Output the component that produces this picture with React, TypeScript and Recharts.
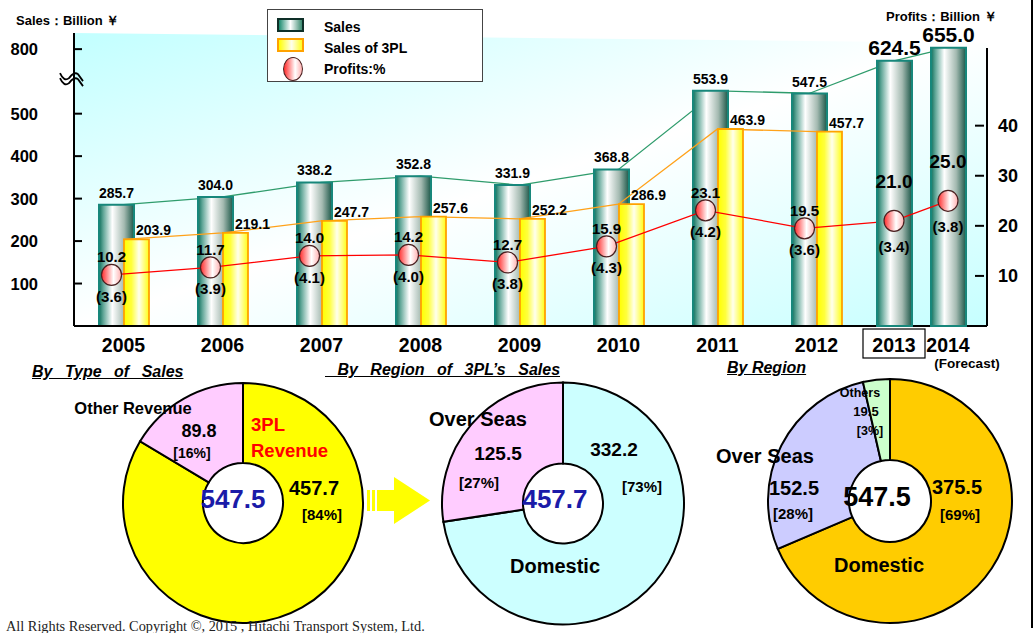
import React from "react";
import {
  ComposedChart,
  Bar,
  Line,
  XAxis,
  YAxis,
  LabelList,
  PieChart,
  Pie,
  Cell,
} from "recharts";

// ---- data ----
const years = ["2005", "2006", "2007", "2008", "2009", "2010", "2011", "2012", "2013", "2014"];
const sales = [285.7, 304.0, 338.2, 352.8, 331.9, 368.8, 553.9, 547.5, 624.5, 655.0];
const sales3PL = [203.9, 219.1, 247.7, 257.6, 252.2, 286.9, 463.9, 457.7];
const profits = [10.2, 11.7, 14.0, 14.2, 12.7, 15.9, 23.1, 19.5, 21.0, 25.0];
const margins = [3.6, 3.9, 4.1, 4.0, 3.8, 4.3, 4.2, 3.6, 3.4, 3.8];

const salesTicks = [100, 200, 300, 400, 500];
const salesBreakLabel = 800; // label drawn above the axis break
const salesBreakAt = 652; // where that label sits on the drawn scale
const profitTicks = [10, 20, 30, 40];
const boxedYear = "2013";
const forecastYear = "2014";

const typeNames = ["3PL Revenue", "Other Revenue"];
const typeValues = [457.7, 89.8];
const typeShares = [84, 16];

const tplRegionNames = ["Domestic", "Over Seas"];
const tplRegionValues = [332.2, 125.5];
const tplRegionShares = [73, 27];

const regionNames = ["Domestic", "Over Seas", "Others"];
const regionValues = [375.5, 152.5, 19.5];
const regionShares = [69, 28, 3];

const rows = years.map((year, i) => ({
  year,
  sales: sales[i],
  tpl: i < sales3PL.length ? sales3PL[i] : null,
  profit: profits[i],
  margin: margins[i],
}));
const split = sales3PL.length;
const mainRows = rows.slice(0, split);
const forecastRows = rows.slice(split);
const bridgeRows = rows.slice(split - 1, split + 1);

const toPie = (names: string[], values: number[]) => names.map((name, i) => ({ name, value: values[i] }));

// ---- layout / style ----
const W = 1036;
const H = 633;
const TOP_H = 380;
const PLOT_TOP = 33;
const PLOT_BOTTOM = 326;
const X_AXIS_H = TOP_H - PLOT_BOTTOM;
const LEFT_AXIS_X = 74;
const RIGHT_AXIS_X = 987;
const RIGHT_AXIS_TOP = 48;
const SALES_MAX = 690;
const PROFIT_MAX = 58.5;
const PROFIT_MAX_RIGHT = (PROFIT_MAX * (PLOT_BOTTOM - RIGHT_AXIS_TOP)) / (PLOT_BOTTOM - PLOT_TOP);

const FONT = '"Liberation Sans", Arial, Helvetica, sans-serif';
const SERIF = '"Liberation Serif", "Times New Roman", serif';
const SALES_LINE = "#2f9c6c";
const TPL_LINE = "#ffa21a";
const PROFIT_LINE = "#ff0000";
const axisStroke = { stroke: "#000", strokeWidth: 2 };
const abs: React.CSSProperties = { position: "absolute", left: 0, top: 0 };

const gradDefs = (id: string) => (
  <defs>
    <linearGradient id={`${id}-sales`} x1="0" y1="0" x2="1" y2="0">
      <stop offset="0%" stopColor="#0f6f5c" />
      <stop offset="12%" stopColor="#5ea596" />
      <stop offset="38%" stopColor="#ffffff" />
      <stop offset="72%" stopColor="#a4bab1" />
      <stop offset="100%" stopColor="#1c5748" />
    </linearGradient>
    <linearGradient id={`${id}-tpl`} x1="0" y1="0" x2="1" y2="0">
      <stop offset="0%" stopColor="#ffff00" />
      <stop offset="30%" stopColor="#ffff3c" />
      <stop offset="60%" stopColor="#ffffee" />
      <stop offset="100%" stopColor="#ffff14" />
    </linearGradient>
    <linearGradient id={`${id}-ball`} x1="0" y1="0" x2="1" y2="0">
      <stop offset="0%" stopColor="#ff2a2a" />
      <stop offset="60%" stopColor="#ffffff" />
      <stop offset="100%" stopColor="#ffb0b0" />
    </linearGradient>
  </defs>
);

const boldText = (size: number) => ({
  fontSize: size,
  fontWeight: "bold" as const,
  fontFamily: FONT,
  fill: "#000",
});

// ---- ticks ----
const yearTick = (p: any) => (
  <text x={p.x} y={PLOT_BOTTOM + 26} textAnchor="middle" {...boldText(19.5)}>
    {p.payload.value}
  </text>
);

const forecastTick = (p: any) => {
  const v = p.payload.value;
  return (
    <g>
      {v === boxedYear && (
        <rect x={p.x - 31} y={PLOT_BOTTOM + 3} width={62} height={29} fill="none" stroke="#000" strokeWidth={1.2} />
      )}
      <text x={p.x} y={PLOT_BOTTOM + 26} textAnchor="middle" {...boldText(19.5)}>
        {v}
      </text>
      {v === forecastYear && (
        <text x={p.x + 19} y={PLOT_BOTTOM + 42} textAnchor="middle" {...boldText(13.5)}>
          (Forecast)
        </text>
      )}
    </g>
  );
};

const salesTick = (p: any) => {
  const v = p.payload.value;
  const isBreak = v === salesBreakAt;
  const x = LEFT_AXIS_X;
  const y = p.y;
  const wave = (o: number) =>
    `M${x - 14},${y + 24 + o} Q${x - 10},${y + 33 + o} ${x - 5},${y + 29 + o} Q${x},${y + 22 + o} ${x + 4},${y + 25 + o} L${x + 9},${y + 32 + o}`;
  return (
    <g>
      <line x1={x} x2={x + 8} y1={y} y2={y} stroke="#000" strokeWidth={2} />
      <text x={x - 36} y={y + 6} textAnchor="end" {...boldText(16.5)}>
        {isBreak ? salesBreakLabel : v}
      </text>
      {isBreak && (
        <g fill="none" stroke="#000" strokeWidth={1.8}>
          <path d={wave(0)} />
          <path d={wave(5)} />
        </g>
      )}
    </g>
  );
};

const profitTick = (p: any) => (
  <g>
    <line x1={RIGHT_AXIS_X - 12} x2={RIGHT_AXIS_X - 3} y1={p.y} y2={p.y} stroke="#000" strokeWidth={2} />
    <text x={RIGHT_AXIS_X + 11} y={p.y + 6.5} textAnchor="start" {...boldText(18)}>
      {p.payload.value}
    </text>
  </g>
);

// ---- labels ----
const barValue = (size: number, lift: number, shift: number) => (p: any) => {
  if (p.value == null) return null;
  const vb = p.viewBox || {};
  const x = (p.x ?? vb.x) + (p.width ?? vb.width ?? 0) / 2 + shift;
  const y = p.y ?? vb.y;
  return (
    <text x={x} y={y - lift} textAnchor="middle" {...boldText(size)}>
      {Number(p.value).toFixed(1)}
    </text>
  );
};

const pointText = (size: number, dy: number, wrap: boolean) => (p: any) => {
  if (p.value == null) return null;
  const vb = p.viewBox || {};
  const x = p.x ?? vb.x;
  const y = p.y ?? vb.y;
  const t = Number(p.value).toFixed(1);
  return (
    <text x={x} y={y + dy} textAnchor="middle" {...boldText(size)}>
      {wrap ? `(${t})` : t}
    </text>
  );
};

const ball = (id: string) => (p: any) => (
  <ellipse
    key={`ball-${p.index}`}
    cx={p.cx}
    cy={p.cy}
    rx={10}
    ry={10.5}
    fill={`url(#${id}-ball)`}
    stroke="#4a2020"
    strokeWidth={1.2}
  />
);

// ---- pie labels ----
type TextSpot = { dx: number; dy: number; size: number; color?: string; anchor?: "start" | "middle" | "end"; lineGap?: number };
type PieLayout = { center: TextSpot; slices: { name: TextSpot; value: TextSpot; share: TextSpot }[] };

const typeLayout: PieLayout = {
  center: { dx: -5, dy: 1, size: 26, color: "#1b1ba8" },
  slices: [
    {
      name: { dx: 13, dy: -74, size: 18.5, color: "#ff0000", anchor: "start", lineGap: 26 },
      value: { dx: 76, dy: -10, size: 20 },
      share: { dx: 84, dy: 16, size: 15 },
    },
    {
      name: { dx: -105, dy: -90, size: 16.5 },
      value: { dx: -39, dy: -67, size: 18 },
      share: { dx: -46, dy: -45, size: 14 },
    },
  ],
};

const tplRegionLayout: PieLayout = {
  center: { dx: -3, dy: 0.5, size: 26, color: "#1b1ba8" },
  slices: [
    {
      name: { dx: -3, dy: 67.5, size: 20 },
      value: { dx: 56, dy: -49.5, size: 19 },
      share: { dx: 84, dy: -12.5, size: 15 },
    },
    {
      name: { dx: -80, dy: -79.5, size: 20 },
      value: { dx: -60, dy: -45.5, size: 19 },
      share: { dx: -79, dy: -16.5, size: 15 },
    },
  ],
};

const regionLayout: PieLayout = {
  center: { dx: -8, dy: 1, size: 27 },
  slices: [
    {
      name: { dx: -6, dy: 69, size: 20 },
      value: { dx: 72, dy: -9, size: 20 },
      share: { dx: 75, dy: 18, size: 15 },
    },
    {
      name: { dx: -120, dy: -40, size: 20 },
      value: { dx: -91, dy: -8, size: 20 },
      share: { dx: -92, dy: 17, size: 15 },
    },
    {
      name: { dx: -25, dy: -103, size: 12.5 },
      value: { dx: -19, dy: -85, size: 13 },
      share: { dx: -15, dy: -65, size: 12.5 },
    },
  ],
};

const spot = (key: string, x: number, y: number, s: TextSpot, content: string) => (
  <text
    key={key}
    x={x + s.dx}
    y={y + s.dy}
    textAnchor={s.anchor ?? "middle"}
    dominantBaseline="central"
    {...boldText(s.size)}
    fill={s.color ?? "#000"}
  >
    {content}
  </text>
);

const pieLabel =
  (layout: PieLayout, cx: number, cy: number, names: string[], values: number[], shares: number[]) =>
  (p: any) => {
    const i = typeof p.index === "number" ? p.index : values.indexOf(p.value);
    const s = layout.slices[i];
    if (!s) return null;
    const lines = s.name.lineGap ? names[i].split(" ") : [names[i]];
    const total = values.reduce((a, b) => a + b, 0);
    return (
      <g key={`pie-label-${i}`}>
        {lines.map((t, k) => spot(`n${k}`, cx, cy + k * (s.name.lineGap ?? 0), s.name, t))}
        {spot("v", cx, cy, s.value, values[i].toFixed(1))}
        {spot("s", cx, cy, s.share, `[${shares[i]}%]`)}
        {i === 0 && spot("c", cx, cy, layout.center, total.toFixed(1))}
      </g>
    );
  };

const typeColors = ["#ffff00", "#ffccff"];
const tplRegionColors = ["#ccffff", "#ffccff"];
const regionColors = ["#ffcc00", "#ccccff", "#ccffcc"];

const PIE_TOP = 360;
const pies = [
  { key: "type", cx: 238, cy: 138, r: 120, ir: 40, names: typeNames, values: typeValues, shares: typeShares, colors: typeColors, layout: typeLayout },
  { key: "tpl", cx: 558, cy: 138.5, r: 121, ir: 40, names: tplRegionNames, values: tplRegionValues, shares: tplRegionShares, colors: tplRegionColors, layout: tplRegionLayout },
  { key: "region", cx: 885, cy: 136, r: 122, ir: 41, names: regionNames, values: regionValues, shares: regionShares, colors: regionColors, layout: regionLayout },
];

const sectionTitle: React.CSSProperties = {
  position: "absolute",
  fontFamily: FONT,
  fontWeight: "bold",
  fontStyle: "italic",
  fontSize: 16,
  lineHeight: "20px",
  textDecoration: "underline",
  whiteSpace: "pre",
  color: "#000",
};

const legendText: React.CSSProperties = {
  position: "absolute",
  left: 56,
  fontFamily: FONT,
  fontWeight: "bold",
  fontSize: 14,
  lineHeight: "16px",
  whiteSpace: "nowrap",
};

export default function App() {
  return (
    <div style={{ ...abs, width: W, height: H, background: "#fff", overflow: "hidden" }}>
      {/* plot background */}
      <div
        style={{
          position: "absolute",
          left: LEFT_AXIS_X,
          top: PLOT_TOP,
          width: RIGHT_AXIS_X - LEFT_AXIS_X,
          height: PLOT_BOTTOM - PLOT_TOP,
          background: "linear-gradient(to bottom right, #c2ffff 0%, #ffffff 50%, #c6ffff 100%)",
          clipPath: "polygon(0 0, 100% 10px, 100% 100%, 0 100%)",
        }}
      />

      {/* sales connector 2012 -> 2013 (under the bars) */}
      <div style={abs}>
        <ComposedChart
          width={W}
          height={TOP_H}
          data={bridgeRows}
          margin={{ top: PLOT_TOP, right: 99.5, bottom: X_AXIS_H, left: 766.5 }}
        >
          <XAxis dataKey="year" hide scale="band" />
          <YAxis hide domain={[0, SALES_MAX]} />
          <Line dataKey="sales" type="linear" stroke={SALES_LINE} strokeWidth={1.3} dot={false} isAnimationActive={false} />
        </ComposedChart>
      </div>

      {/* 2005-2012 bars */}
      <div style={abs}>
        <ComposedChart
          width={W}
          height={TOP_H}
          data={mainRows}
          barGap={-10}
          margin={{ top: PLOT_TOP, right: W - RIGHT_AXIS_X, bottom: 0, left: 0 }}
        >
          {gradDefs("a")}
          <XAxis
            dataKey="year"
            height={X_AXIS_H}
            interval={0}
            tickLine={false}
            tickSize={0}
            tickMargin={0}
            axisLine={axisStroke}
            padding={{ left: 0, right: 121 }}
            tick={yearTick}
          />
          <YAxis
            width={LEFT_AXIS_X}
            domain={[0, SALES_MAX]}
            ticks={[...salesTicks, salesBreakAt]}
            interval={0}
            tickLine={false}
            tickSize={0}
            tickMargin={0}
            axisLine={axisStroke}
            tick={salesTick}
          />
          <Line
            dataKey="sales"
            type="linear"
            stroke={SALES_LINE}
            strokeWidth={1.3}
            dot={false}
            isAnimationActive={false}
            zIndex={250}
          />
          <Bar
            dataKey="sales"
            barSize={35}
            fill="url(#a-sales)"
            stroke="#17877b"
            strokeWidth={2}
            isAnimationActive={false}
            zIndex={300}
          >
            <LabelList dataKey="sales" content={barValue(14, 7, 0)} />
          </Bar>
          <Line
            dataKey="tpl"
            type="linear"
            stroke={TPL_LINE}
            strokeWidth={1.3}
            dot={false}
            isAnimationActive={false}
            zIndex={350}
          />
          <Bar
            dataKey="tpl"
            barSize={25}
            fill="url(#a-tpl)"
            stroke="#ffa200"
            strokeWidth={1.8}
            isAnimationActive={false}
            zIndex={380}
          >
            <LabelList dataKey="tpl" content={barValue(14, 4, 17)} />
          </Bar>
        </ComposedChart>
      </div>

      {/* profit connector 2012 -> 2013 */}
      <div style={abs}>
        <ComposedChart
          width={W}
          height={TOP_H}
          data={bridgeRows}
          margin={{ top: PLOT_TOP, right: 97.25, bottom: X_AXIS_H, left: 759.75 }}
        >
          <XAxis dataKey="year" hide scale="band" />
          <YAxis hide domain={[0, PROFIT_MAX]} />
          <Line dataKey="profit" type="linear" stroke={PROFIT_LINE} strokeWidth={1.3} dot={false} isAnimationActive={false} />
        </ComposedChart>
      </div>

      {/* profits 2005-2012 + right axis */}
      <div style={abs}>
        <ComposedChart
          width={W}
          height={TOP_H}
          data={mainRows}
          margin={{ top: RIGHT_AXIS_TOP, right: 0, bottom: X_AXIS_H, left: 62 }}
        >
          {gradDefs("c")}
          <XAxis dataKey="year" hide scale="band" padding={{ left: 0, right: 133 }} />
          <YAxis
            orientation="right"
            width={W - RIGHT_AXIS_X}
            domain={[0, PROFIT_MAX_RIGHT]}
            ticks={profitTicks}
            interval={0}
            tickLine={false}
            tickSize={0}
            tickMargin={0}
            axisLine={axisStroke}
            tick={profitTick}
          />
          <Line
            dataKey="profit"
            type="linear"
            stroke={PROFIT_LINE}
            strokeWidth={1.3}
            dot={ball("c")}
            isAnimationActive={false}
          >
            <LabelList dataKey="profit" content={pointText(15, -12.5, false)} />
            <LabelList dataKey="margin" content={pointText(15, 27, true)} />
          </Line>
        </ComposedChart>
      </div>

      {/* 2013-2014 */}
      <div style={abs}>
        <ComposedChart
          width={W}
          height={TOP_H}
          data={forecastRows}
          margin={{ top: PLOT_TOP, right: 61, bottom: 0, left: 867 }}
        >
          {gradDefs("b")}
          <XAxis
            dataKey="year"
            height={X_AXIS_H}
            interval={0}
            tickLine={false}
            tickSize={0}
            tickMargin={0}
            axisLine={false}
            tick={forecastTick}
          />
          <YAxis yAxisId="s" hide domain={[0, SALES_MAX]} />
          <YAxis yAxisId="p" hide domain={[0, PROFIT_MAX]} />
          <Line
            yAxisId="s"
            dataKey="sales"
            type="linear"
            stroke={SALES_LINE}
            strokeWidth={1.3}
            dot={false}
            isAnimationActive={false}
            zIndex={250}
          />
          <Bar
            yAxisId="s"
            dataKey="sales"
            barSize={35}
            fill="url(#b-sales)"
            stroke="#17877b"
            strokeWidth={2}
            isAnimationActive={false}
            zIndex={300}
          >
            <LabelList dataKey="sales" content={barValue(21, 6, 0)} />
          </Bar>
          <Line
            yAxisId="p"
            dataKey="profit"
            type="linear"
            stroke={PROFIT_LINE}
            strokeWidth={1.3}
            dot={ball("b")}
            isAnimationActive={false}
            zIndex={450}
          >
            <LabelList dataKey="profit" content={pointText(19, -33, false)} />
            <LabelList dataKey="margin" content={pointText(15, 31, true)} />
          </Line>
        </ComposedChart>
      </div>

      {/* legend */}
      <div
        style={{
          position: "absolute",
          left: 267,
          top: 9,
          width: 214,
          height: 71,
          border: "1.5px solid #444",
          background: "#fff",
        }}
      >
        <div
          style={{
            position: "absolute",
            left: 9,
            top: 8,
            width: 23,
            height: 10,
            border: "2px solid #0e2f28",
            background: "linear-gradient(to right, #1a8a6e, #ffffff 50%, #3b8a70)",
          }}
        />
        <div style={{ ...legendText, top: 9 }}>Sales</div>
        <div
          style={{
            position: "absolute",
            left: 9,
            top: 28,
            width: 23,
            height: 10,
            border: "2px solid #ffa200",
            background: "linear-gradient(to right, #ffff00, #ffffee 55%, #ffff20)",
          }}
        />
        <div style={{ ...legendText, top: 30 }}>Sales of 3PL</div>
        <div
          style={{
            position: "absolute",
            left: 15,
            top: 47,
            width: 18,
            height: 22,
            borderRadius: "50%",
            border: "1.2px solid #4a2020",
            background: "linear-gradient(to right, #ff2a2a, #ffffff 62%, #ffb0b0)",
          }}
        />
        <div style={{ ...legendText, top: 51 }}>Profits:%</div>
      </div>

      {/* axis titles */}
      <div style={{ position: "absolute", left: 16, top: 13, fontFamily: FONT, fontWeight: "bold", fontSize: 13, lineHeight: "16px", whiteSpace: "pre" }}>
        Sales：Billion ￥
      </div>
      <div style={{ position: "absolute", left: 886, top: 9, fontFamily: FONT, fontWeight: "bold", fontSize: 13, lineHeight: "16px", whiteSpace: "pre" }}>
        Profits：Billion ￥
      </div>

      {/* pies */}
      <div style={{ position: "absolute", left: 0, top: PIE_TOP }}>
        <PieChart width={W} height={H - PIE_TOP}>
          {pies.map((pc) => (
            <Pie
              key={pc.key}
              data={toPie(pc.names, pc.values)}
              dataKey="value"
              nameKey="name"
              cx={pc.cx}
              cy={pc.cy}
              innerRadius={pc.ir}
              outerRadius={pc.r}
              startAngle={90}
              endAngle={-270}
              stroke="#000"
              strokeWidth={2}
              isAnimationActive={false}
              labelLine={false}
              label={pieLabel(pc.layout, pc.cx, pc.cy, pc.names, pc.values, pc.shares)}
            >
              {pc.colors.map((c, i) => (
                <Cell key={i} fill={c} />
              ))}
            </Pie>
          ))}
        </PieChart>
      </div>

      {/* section titles */}
      <div style={{ ...sectionTitle, left: 32, top: 362, wordSpacing: 8 }}>By Type of Sales</div>
      <div style={{ ...sectionTitle, left: 325, top: 360, wordSpacing: 8 }}>{" By Region of 3PL’s Sales"}</div>
      <div style={{ ...sectionTitle, left: 727, top: 358 }}>By Region</div>

      {/* arrow between the first two pies */}
      <svg style={{ position: "absolute", left: 360, top: 470 }} width={80} height={60}>
        <g fill="#ffff00">
          <rect x={7} y={20} width={3} height={21} />
          <rect x={12} y={20} width={3} height={21} />
          <rect x={17} y={20} width={18} height={21} />
          <polygon points="34,7 70,30.5 34,54" />
        </g>
      </svg>

      <div
        style={{
          position: "absolute",
          left: 6,
          top: 618,
          fontFamily: SERIF,
          fontSize: 14.3,
          lineHeight: "16px",
          whiteSpace: "nowrap",
          color: "#222",
        }}
      >
        All Rights Reserved. Copyright ©, 2015 , Hitachi Transport System, Ltd.
      </div>

      <div style={{ position: "absolute", left: 1031, top: 0, width: 2, height: 628, background: "#000" }} />
    </div>
  );
}
